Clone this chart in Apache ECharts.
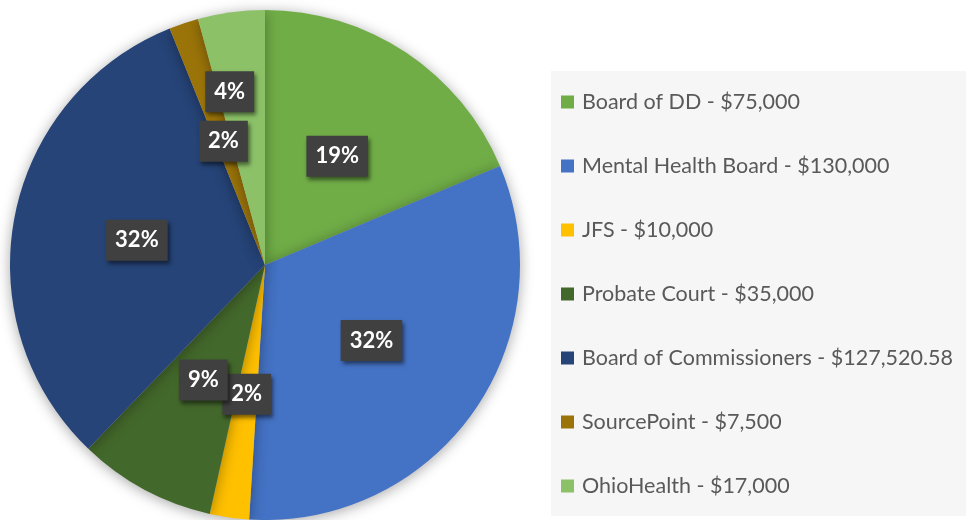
<!DOCTYPE html>
<html><head><meta charset="utf-8">
<script src="https://cdn.jsdelivr.net/npm/echarts@6/dist/echarts.min.js"></script>
<style>html,body{margin:0;padding:0;background:#fff}#c{width:966px;height:520px}</style>
</head><body><div id="c"></div>
<script>
var categories = ['Board of DD - $75,000','Mental Health Board - $130,000','JFS - $10,000','Probate Court - $35,000','Board of Commissioners - $127,520.58','SourcePoint - $7,500','OhioHealth - $17,000'];
var values = [75000, 130000, 10000, 35000, 127520.58, 7500, 17000];
var colors = ['#70AD47','#4472C4','#FFC000','#43682B','#264478','#9B7409','#8CC168'];

var chart = echarts.init(document.getElementById('c'));
var total = values.reduce(function(a,b){return a+b;},0);
chart.setOption({
  animation:false,
  graphic:[{type:'rect',left:551,top:71,shape:{width:415,height:445},style:{fill:'#f6f6f6'},z:-1}],
  legend:{
    orient:'vertical', left:561, top:91, itemWidth:13, itemHeight:13, itemGap:42,
    icon:'rect', padding:0,
    data:categories,
    textStyle:{fontFamily:'Lato',fontSize:21.5,lineHeight:20,color:'#595959',padding:[0,0,0,3]}
  },
  series:[{
    type:'pie', center:[265,265], radius:[0,255], startAngle:90, clockwise:true,
    color:colors,
    avoidLabelOverlap:false,
    itemStyle:{shadowBlur:14,shadowColor:'rgba(0,0,0,0.35)',shadowOffsetY:2},
    label:{
      position:'inside', fontFamily:'Lato', fontSize:22, fontWeight:'bold', color:'#fff',
      backgroundColor:'#404040', padding:[10,9,9,9],
      shadowBlur:4, shadowOffsetX:2, shadowOffsetY:3, shadowColor:'rgba(0,0,0,0.5)',
      formatter:function(p){return Math.round(p.value/total*100)+'%';}
    },
    labelLine:{show:false},
    labelLayout:function(p){ if(p.dataIndex===6){return {dx:-18,dy:-44};} return {}; },
    data:categories.map(function(c,i){return {name:c,value:values[i]};})
  }]
});
</script></body></html>
